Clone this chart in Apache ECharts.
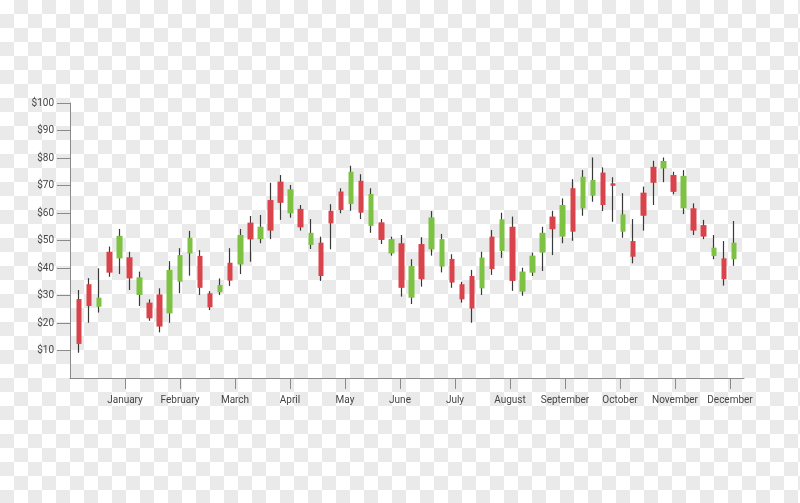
<!DOCTYPE html>
<html>
<head>
<meta charset="utf-8">
<script src="https://cdn.jsdelivr.net/npm/echarts@6/dist/echarts.min.js"></script>
<style>
html,body{margin:0;padding:0;width:800px;height:503px;overflow:hidden;background:#fff;}
#chart{width:800px;height:503px;}
</style>
</head>
<body>
<div id="chart"></div>
<script>
const months = ['January','February','March','April','May','June','July','August','September','October','November','December'];
const monthTicks = [1,2,3,4,5,6,7,8,9,10,11,12];
const priceTicks = [10,20,30,40,50,60,70,80,90,100];
const opens  = [28.7,34.1,25.9,45.9,43.5,43.9,30.2,27.4,30.4,23.5,35.0,45.3,44.4,30.8,31.2,41.9,41.3,56.5,50.5,64.7,71.4,59.9,61.5,48.4,49.2,60.8,67.8,63.3,71.7,55.3,56.6,45.3,49.0,29.2,48.7,46.8,40.5,43.3,34.1,37.1,32.6,51.4,46.2,55.0,31.4,38.3,45.6,58.7,51.4,69.0,61.7,66.3,74.7,70.8,53.2,49.8,67.4,76.8,76.2,73.8,61.7,61.7,55.6,44.4,43.5,43.2];
const closes = [12.4,26.2,29.2,38.3,51.7,36.2,36.6,21.7,18.7,39.3,44.7,51.0,32.8,25.7,33.8,35.4,52.0,50.4,55.0,53.6,63.7,68.6,54.8,52.8,37.1,56.2,61.1,75.0,60.1,66.9,50.2,50.5,32.8,40.7,35.9,58.4,50.5,34.7,28.6,25.3,43.8,39.6,57.7,35.3,38.7,44.5,52.8,54.1,62.9,53.2,73.2,72.0,62.9,69.9,59.5,44.1,59.0,71.0,78.9,67.7,73.5,53.6,51.4,47.4,35.9,49.2];
const lows   = [9.2,20.1,23.8,36.8,37.8,32.0,26.2,20.8,16.6,20.1,30.8,37.2,30.2,24.7,30.2,33.5,37.8,42.3,49.0,50.5,57.5,58.3,53.6,46.9,35.3,46.8,59.9,60.8,57.8,52.8,48.7,44.5,29.6,26.9,33.2,44.5,38.4,32.8,27.4,20.1,30.2,37.5,43.7,31.7,29.9,37.1,38.9,44.7,49.0,49.9,59.0,64.1,60.7,56.8,51.0,41.7,53.6,62.9,71.2,66.8,59.6,52.0,50.5,43.2,33.6,40.8];
const highs  = [32.0,36.3,39.9,47.8,54.2,45.9,38.7,28.6,32.6,42.5,47.2,53.5,46.5,31.6,36.2,47.2,54.2,58.9,59.3,71.0,73.8,70.2,62.9,57.8,51.4,63.2,69.0,77.2,74.1,69.0,57.8,51.4,52.0,43.2,51.2,60.7,52.4,45.0,35.0,39.3,45.9,53.8,60.1,58.7,40.1,45.6,55.0,60.8,65.3,72.3,75.6,80.2,76.6,73.0,67.2,57.8,69.6,79.0,80.2,75.0,75.6,63.5,57.5,52.0,49.8,57.1];

const idx = opens.map((_, i) => i);
const wickData = idx.map(i => [opens[i], closes[i], lows[i], highs[i]]);
const bodyData = idx.map(i => [opens[i], closes[i], Math.min(opens[i], closes[i]), Math.max(opens[i], closes[i])]);

// checkerboard backdrop tile (decoration only)
const tile = document.createElement('canvas');
tile.width = 28; tile.height = 28;
const tc = tile.getContext('2d');
tc.fillStyle = '#ffffff'; tc.fillRect(0, 0, 28, 28);
tc.fillStyle = '#eaeaea'; tc.fillRect(14, 0, 14, 14); tc.fillRect(0, 14, 14, 14);
document.getElementById('chart').style.background = 'url(' + tile.toDataURL() + ') repeat 0 0';

const GREEN = '#7dc242', RED = '#d9434b', WICK = '#3a3a3a', AXIS = '#8a8a8a';
const chart = echarts.init(document.getElementById('chart'), null, {renderer: 'canvas'});
chart.setOption({
  animation: false,
  backgroundColor: 'rgba(0,0,0,0)',
  grid: [
    {left: 70, right: 56, top: 103, bottom: 125},
    {left: 74, right: 61, top: 103, bottom: 125}
  ],
  xAxis: [
    {
      type: 'value', gridIndex: 0, min: 0, max: 674 / 55,
      splitLine: {show: false},
      axisLine: {show: true, lineStyle: {color: AXIS, width: 1}},
      axisTick: {show: true, length: 11, customValues: monthTicks, lineStyle: {color: AXIS}},
      axisLabel: {customValues: monthTicks, margin: 17, color: '#444', fontSize: 10, fontFamily: 'Roboto',
        formatter: v => months[Math.round(v) - 1] || ''}
    },
    {
      type: 'category', gridIndex: 1, data: idx.map(String), boundaryGap: true,
      show: false
    }
  ],
  yAxis: [
    {
      type: 'value', gridIndex: 0, min: 0, max: 100, interval: 10,
      splitLine: {show: false},
      axisLine: {show: true, lineStyle: {color: AXIS, width: 1}},
      axisTick: {show: true, length: 13, customValues: priceTicks, lineStyle: {color: AXIS}},
      axisLabel: {customValues: priceTicks, margin: 16, color: '#444', fontSize: 10, fontFamily: 'Roboto',
        formatter: v => '$' + v}
    },
    {type: 'value', gridIndex: 1, min: 0, max: 100, show: false}
  ],
  series: [
    {
      type: 'candlestick', xAxisIndex: 1, yAxisIndex: 1, barWidth: 1,
      data: wickData,
      itemStyle: {color: WICK, color0: WICK, borderColor: WICK, borderColor0: WICK, borderWidth: 1.2}
    },
    {
      type: 'candlestick', xAxisIndex: 1, yAxisIndex: 1, barWidth: 6,
      data: bodyData,
      itemStyle: {color: GREEN, color0: RED, borderColor: GREEN, borderColor0: RED, borderWidth: 0}
    }
  ]
});
</script>
</body>
</html>
